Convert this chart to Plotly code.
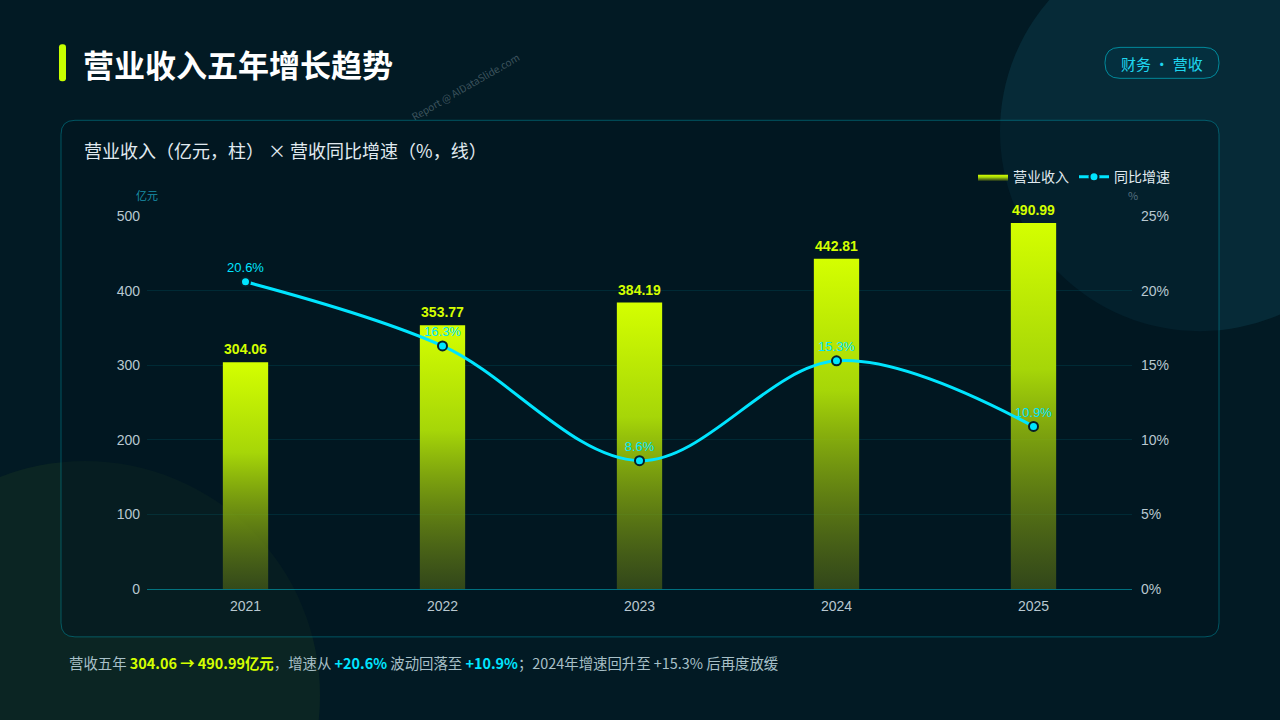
import plotly.graph_objects as go

years = ["2021", "2022", "2023", "2024", "2025"]
revenue = [304.06, 353.77, 384.19, 442.81, 490.99]
growth = [20.6, 16.3, 8.6, 15.3, 10.9]

F = "Noto Sans CJK SC"
fig = go.Figure()
xs = list(range(len(years)))
w = 0.115
for i, (x, v) in enumerate(zip(xs, revenue)):
    fig.add_trace(go.Scatter(
        x=[x - w, x + w, x + w, x - w, x - w], y=[0, 0, v, v, 0],
        fill="toself", mode="lines", line=dict(width=0),
        fillgradient=dict(type="vertical",
                          colorscale=[[0, "rgba(90,110,20,0.55)"], [0.6, "#a6d608"], [1, "#d4ff00"]]),
        name="营业收入", legendgroup="rev", showlegend=(i == 0), hoverinfo="skip"))
fig.add_trace(go.Scatter(x=xs, y=[v + 6 for v in revenue], mode="text", text=[f"<b>{v:.2f}</b>" for v in revenue],
                         textposition="top center", cliponaxis=False,
                         textfont=dict(color="#d4ff00", size=14, family="Liberation Sans"),
                         showlegend=False, hoverinfo="skip"))
fig.add_trace(go.Scatter(x=xs, y=growth, yaxis="y2", mode="lines+markers+text", name="同比增速",
                         line=dict(color="#00e5ff", width=3, shape="spline", smoothing=1.0),
                         marker=dict(size=9, color="#00e5ff", line=dict(color="#05202a", width=2)),
                         text=[f"{g}%" for g in growth], textposition="top center", cliponaxis=False,
                         textfont=dict(color="#00e5ff", size=13, family="Liberation Sans")))

def px(x): return x / 1280
def py(y):
    # compensate for the vertical scaling observed in the rendered page
    return 1 - ((y - 6.6) / 0.9786) / 720

def rrect(x0, y0, x1, y1, r):
    X = lambda v: f"{px(v):.5f}"
    Y = lambda v: f"{py(v):.5f}"
    return (f"M {X(x0+r)},{Y(y0)} L {X(x1-r)},{Y(y0)} Q {X(x1)},{Y(y0)} {X(x1)},{Y(y0+r)} "
            f"L {X(x1)},{Y(y1-r)} Q {X(x1)},{Y(y1)} {X(x1-r)},{Y(y1)} L {X(x0+r)},{Y(y1)} "
            f"Q {X(x0)},{Y(y1)} {X(x0)},{Y(y1-r)} L {X(x0)},{Y(y0+r)} Q {X(x0)},{Y(y0)} {X(x0+r)},{Y(y0)} Z")

shapes = [
    dict(type="circle", xref="paper", yref="paper", x0=px(1000), x1=px(1400), y0=py(330), y1=py(-70),
         fillcolor="rgba(20,90,110,0.25)", line=dict(width=0), layer="below"),
    dict(type="circle", xref="paper", yref="paper", x0=px(-150), x1=px(320), y0=py(930), y1=py(460),
         fillcolor="rgba(40,70,30,0.25)", line=dict(width=0), layer="below"),
    dict(type="path", xref="paper", yref="paper", path=rrect(61, 119, 1219, 636, 14),
         fillcolor="rgba(0,20,30,0.45)", line=dict(color="rgba(0,200,220,0.35)", width=1), layer="below"),
    dict(type="path", xref="paper", yref="paper", path=rrect(59, 43, 66, 80, 3),
         fillcolor="#c8ff00", line=dict(width=0)),
    dict(type="path", xref="paper", yref="paper", path=rrect(1105, 46, 1219, 77, 15),
         fillcolor="rgba(0,60,80,0.3)", line=dict(color="rgba(0,200,220,0.6)", width=1)),
]
ann = [
    dict(x=px(81), y=py(62), text="<b>营业收入五年增长趋势</b>", font=dict(size=31, color="#ffffff", family=F), xanchor="left"),
    dict(x=px(1162), y=py(62), text="财务 · 营收", font=dict(size=15, color="#1fd6ee", family=F), xanchor="center"),
    dict(x=px(82), y=py(149), text="营业收入（亿元，柱） × 营收同比增速（%，线）", font=dict(size=18, color="#e0eaf0", family=F), xanchor="left"),
    dict(x=px(147), y=py(194), text="亿元", font=dict(size=11, color="#1a8fa8", family=F), xanchor="center"),
    dict(x=px(1133), y=py(194), text="%", font=dict(size=11, color="#557080", family=F), xanchor="center"),
    dict(x=px(465), y=py(85), text="Report @ AIDataSlide.com", textangle=-30, xanchor="center",
         font=dict(size=10, color="rgba(150,170,180,0.4)")),
    dict(x=px(67), y=py(662), xanchor="left", font=dict(size=14.4, color="#a8c0c8", family=F),
         text="营收五年 <b><span style='color:#d4ff00'>304.06 → 490.99亿元</span></b>，增速从 <b><span style='color:#00e5ff'>+20.6%</span></b> 波动回落至 <b><span style='color:#00e5ff'>+10.9%</span></b>；2024年增速回升至 +15.3% 后再度放缓"),
]
for a in ann:
    a.update(xref="paper", yref="paper", showarrow=False, yanchor="middle")

TF = dict(size=14, color="#b8c8d0", family="Liberation Sans")
fig.update_layout(
    width=1280, height=720, margin=dict(l=0, r=0, t=0, b=0),
    paper_bgcolor="#021a24", plot_bgcolor="rgba(0,0,0,0)",
    shapes=shapes, annotations=ann, font=dict(family=F, color="#b8c8d0"),
    xaxis=dict(domain=[px(147), px(1132)], range=[-0.5, 4.5], tickvals=xs, ticktext=years,
               showgrid=False, zeroline=False, showline=True, linecolor="rgba(0,200,220,0.5)",
               tickfont=TF, ticklabelstandoff=4),
    yaxis=dict(domain=[py(588), py(215)], range=[0, 500], dtick=100, gridcolor="rgba(0,180,200,0.12)",
               zeroline=False, tickfont=TF, ticklabelstandoff=6),
    yaxis2=dict(overlaying="y", side="right", range=[0, 25], dtick=5, ticksuffix="%", showgrid=False, zeroline=False,
                tickfont=TF, ticklabelstandoff=8),
    legend=dict(orientation="h", x=px(1175), xanchor="right", y=py(176), yanchor="middle",
                font=dict(size=14, color="#e0eaf0", family=F), bgcolor="rgba(0,0,0,0)"),
)
fig.write_html("out.html", default_width="1280px", default_height="720px",
               config={"displayModeBar": False},
               post_script="document.body.style.margin='0';document.body.style.background='#021a24';")
